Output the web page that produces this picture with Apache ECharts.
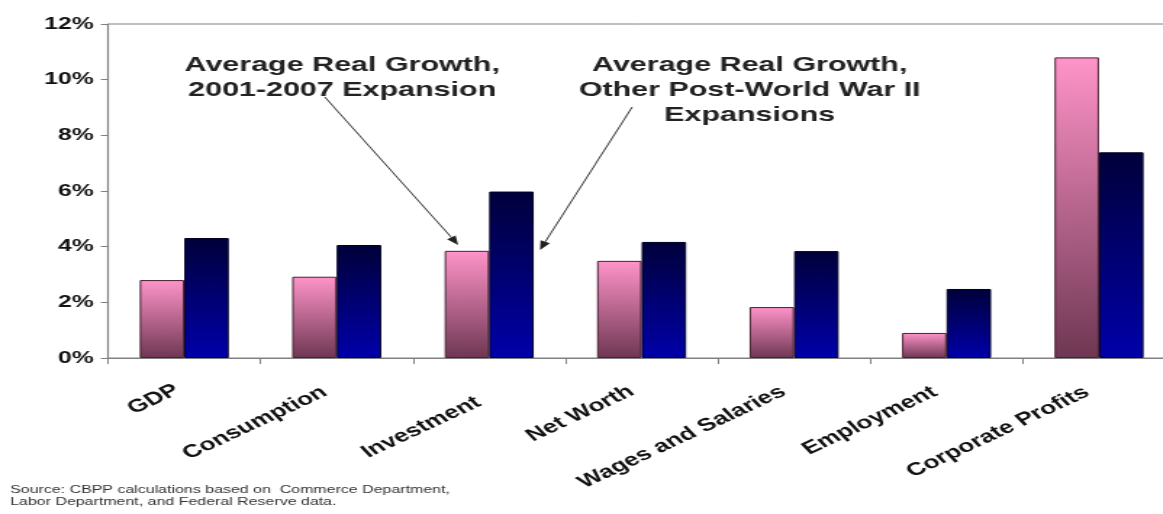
<!DOCTYPE html>
<html><head><meta charset="utf-8">
<script src="https://cdn.jsdelivr.net/npm/echarts@6/dist/echarts.min.js"></script>
<style>
html,body{margin:0;padding:0;background:#fff;overflow:hidden;}
#chart{width:802px;height:514px;transform:scaleX(1.45);transform-origin:0 0;}
</style></head>
<body><div id="chart"></div>
<script>
// ---- data ----
const categories = ['GDP','Consumption','Investment','Net Worth','Wages and Salaries','Employment','Corporate Profits'];
const expansion2001 = [2.80, 2.92, 3.85, 3.49, 1.83, 0.90, 10.80];
const otherPostWar = [4.31, 4.06, 5.98, 4.17, 3.84, 2.48, 7.39];
const yTicks = [0, 2, 4, 6, 8, 10, 12];
const seriesNames = ['Average Real Growth, 2001-2007 Expansion', 'Average Real Growth, Other Post-World War II Expansions'];
const sourceNote = 'Source: CBPP calculations based on  Commerce Department,\nLabor Department, and Federal Reserve data.';

// per-label offsets (label layout only)
const labelPad = [[0,6,0,0],[0,10,0,0],[0,15,0,0],[0,8.3,0,0],[0,9,0,0],[0,9.8,0,0],[0,10,0,0]];
const labelVAlign = ['middle','middle','top','middle','middle','middle','middle'];

const chart = echarts.init(document.getElementById('chart'));

function arrow(x1,y1,x2,y2){
  const dx=x2-x1, dy=y2-y1, L=Math.hypot(dx,dy), ux=dx/L, uy=dy/L;
  const hl=9, hw=3.5;
  const bx=x2-ux*hl, by=y2-uy*hl;
  return [
    {type:'line', shape:{x1:x1,y1:y1,x2:bx,y2:by}, style:{stroke:'#333',lineWidth:1}, z:10},
    {type:'polygon', shape:{points:[[x2,y2],[bx-uy*hw,by+ux*hw],[bx+uy*hw,by-ux*hw]]}, style:{fill:'#222'}, z:10}
  ];
}

const pinkGrad = new echarts.graphic.LinearGradient(0,0,0,1,[{offset:0,color:'#ff94c9'},{offset:1,color:'#6e3752'}]);
const blueGrad = new echarts.graphic.LinearGradient(0,0,0,1,[{offset:0,color:'#00003a'},{offset:1,color:'#0000aa'}]);

chart.setOption({
  animation:false,
  backgroundColor:'#fff',
  grid:{left:74.5, top:24, width:736, bottom:156, show:true, borderColor:'#808080', borderWidth:1, backgroundColor:'transparent', outerBoundsMode:'none', containLabel:false},
  xAxis:{
    type:'category',
    data: categories.map((c,i)=>({value:c, textStyle:{padding:labelPad[i], verticalAlign:labelVAlign[i]}})),
    axisLine:{lineStyle:{color:'#808080',width:1.2}},
    axisTick:{show:true, length:6, lineStyle:{color:'#808080'}},
    axisLabel:{interval:0, rotate:34, margin:27, fontFamily:'Liberation Sans, Arial, sans-serif', fontWeight:'bold', fontSize:18, color:'#111'},
    splitLine:{show:false}
  },
  yAxis:{
    type:'value', min:yTicks[0], max:yTicks[yTicks.length-1], interval:2,
    axisLine:{show:true, lineStyle:{color:'#808080',width:1.2}},
    axisTick:{show:true, length:5, lineStyle:{color:'#808080'}},
    axisLabel:{formatter:'{value}%', margin:10, fontFamily:'Liberation Sans, Arial, sans-serif', fontWeight:'bold', fontSize:17, color:'#111'},
    splitLine:{show:false}
  },
  series:[
    {name:seriesNames[0], type:'bar', data:expansion2001, barWidth:30.7, barGap:'0%',
      itemStyle:{color:pinkGrad, borderColor:'#4a2035', borderWidth:1}},
    {name:seriesNames[1], type:'bar', data:otherPostWar, barWidth:30.7, barGap:'0%',
      itemStyle:{color:blueGrad, borderColor:'#000022', borderWidth:1}}
  ],
  graphic:[
    {type:'text', x:236, y:53, style:{text:'Average Real Growth,\n2001-2007 Expansion', align:'center', verticalAlign:'top', fontFamily:'Liberation Sans, Arial, sans-serif', fontWeight:'bold', fontSize:21, lineHeight:25, fill:'#222'}, z:10},
    {type:'text', x:517, y:53, style:{text:'Average Real Growth,\nOther Post-World War II\nExpansions', align:'center', verticalAlign:'top', fontFamily:'Liberation Sans, Arial, sans-serif', fontWeight:'bold', fontSize:21, lineHeight:25, fill:'#222'}, z:10},
    ...arrow(224,97,316,245),
    ...arrow(436,107,372.4,250),
    {type:'text', x:7, y:484, style:{text:sourceNote, fontFamily:'Liberation Sans, Arial, sans-serif', fontSize:11, lineHeight:12, fill:'#333'}, z:10}
  ]
});
</script></body></html>
